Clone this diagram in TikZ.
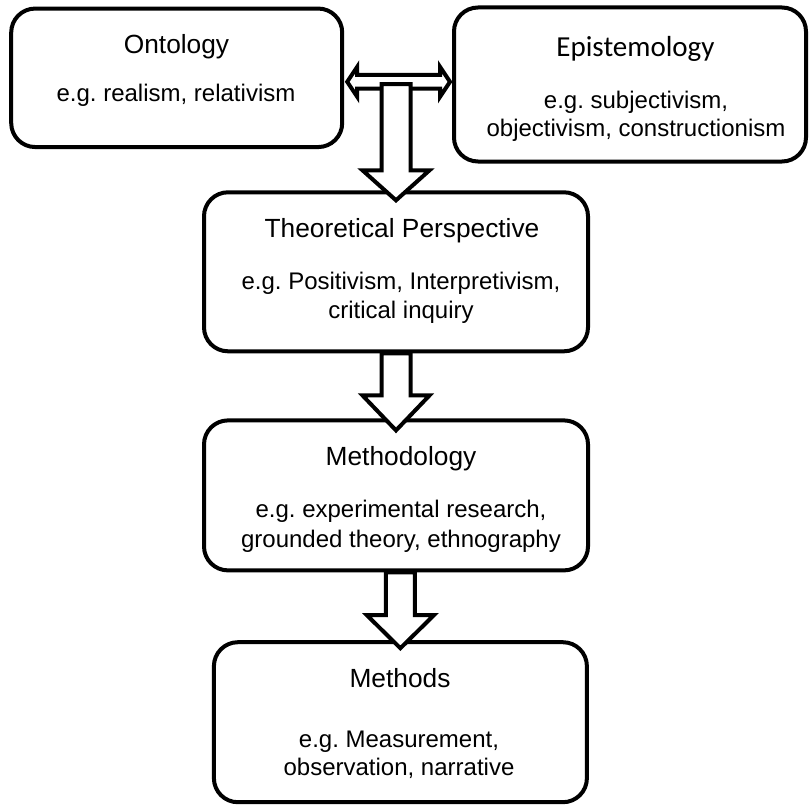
\documentclass[tikz,border=0pt]{standalone}
\usepackage{fontspec}
\setmainfont{Liberation Sans}
\newfontfamily\calibri{Carlito}
\usetikzlibrary{calc}

\tikzset{
  box/.style={draw, line width=4bp, rounded corners=24bp, inner sep=0pt},
  ttl/.style={anchor=base, inner sep=0pt, font=\fontsize{26.3bp}{31bp}\selectfont},
  txt/.style={anchor=base, inner sep=0pt, font=\fontsize{24bp}{29bp}\selectfont},
  blk/.style={draw, fill=white, line width=4bp, line join=miter},
}

% vertical block arrow: #1 start anchor, #2 target anchor, #3 overlap into target, #4 head length
\newcommand\blockdown[4]{%
  \draw[blk] let \p1=(#1), \p2=(#2) in
    (\x2-14.5bp,\y1) -- (\x2-14.5bp,\y2-#3+#4) -- (\x2-33.5bp,\y2-#3+#4)
    -- (\x2,\y2-#3) -- (\x2+33.5bp,\y2-#3+#4) -- (\x2+14.5bp,\y2-#3+#4)
    -- (\x2+14.5bp,\y1) -- cycle;}

\begin{document}
\frenchspacing
\begin{tikzpicture}[x=1bp,y=-1bp]
\useasboundingbox (0,0) rectangle (810,805);

% boxes
\node[box, minimum width=331bp, minimum height=138.5bp] (ont)  at (176.7,77.8) {};
\node[box, minimum width=352bp, minimum height=154bp]   (epi)  at (630,84.5) {};
\node[box, minimum width=384bp, minimum height=159bp]   (theo) at (396,271.8) {};
\node[box, minimum width=384bp, minimum height=150bp]   (meth) at (396,495.4) {};
\node[box, minimum width=373bp, minimum height=160bp]   (mtd)  at (400.4,722.2) {};

% texts
\node[ttl] (ontT) at (176.5,53.3) {Ontology};
\node[txt] (ontB) at (176,101.7) {e.g. realism, relativism};

\node[ttl, font=\calibri\fontsize{29bp}{34bp}\selectfont] (epiT) at (635.5,57) {Epistemology};
\node[txt] (epiB1) at (636,108) {e.g. subjectivism,};
\node[txt] (epiB2) at (636,136.5) {objectivism, constructionism};

\node[ttl] (theoT)  at (402,237) {Theoretical Perspective};
\node[txt] (theoB1) at (401,289) {e.g. Positivism, Interpretivism,};
\node[txt] (theoB2) at (401,318) {critical inquiry};

\node[ttl] (methT)  at (401,465) {Methodology};
\node[txt] (methB1) at (401,517) {e.g. experimental research,};
\node[txt] (methB2) at (401,547) {grounded theory, ethnography};

\node[ttl] (mtdT)  at (400,687) {Methods};
\node[txt] (mtdB1) at (399,747) {e.g. Measurement,};
\node[txt] (mtdB2) at (399,775) {observation, narrative};

% double arrow between ontology and epistemology
\coordinate (dbl) at (397,81.8);
\draw[blk] let \p1=(ont.east), \p2=(epi.west), \p3=(dbl) in
  (\x1+3bp,\y3) -- ++(10bp,15bp) -- ++(0,-8.2bp) -- (\x2-12bp,\y3+6.8bp)
  -- ++(0,8.2bp) -- (\x2-2bp,\y3) -- ++(-10bp,-15bp) -- ++(0,8.2bp)
  -- (\x1+13bp,\y3-6.8bp) -- ++(0,-8.2bp) -- cycle;

% block arrows down the chain
\coordinate (dblTop) at (395,84);
\blockdown{dblTop}{theo.north}{10bp}{30bp}
\blockdown{theo.south}{meth.north}{12bp}{35bp}
\blockdown{meth.south}{mtd.north}{8bp}{33bp}
\end{tikzpicture}
\end{document}
